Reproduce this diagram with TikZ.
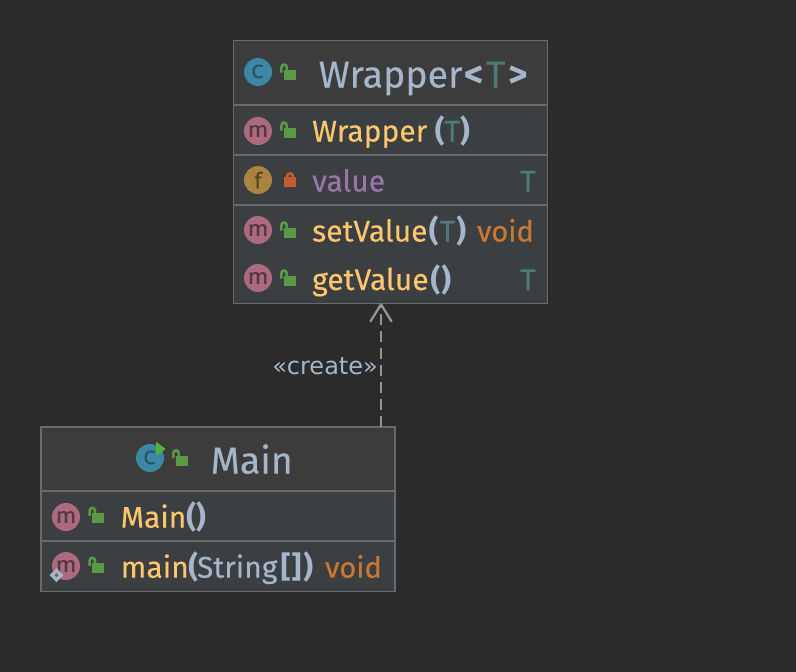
\documentclass[tikz,border=0pt]{standalone}
\usepackage{fontspec}
\setmainfont{Fira Sans}[FakeBold=0.2,BoldFeatures={FakeBold=0}]
\newfontfamily\labelfont{DejaVu Sans}
\usetikzlibrary{arrows.meta,calc}
\definecolor{bgc}{HTML}{2B2B2B}
\definecolor{headc}{HTML}{3C3C3C}
\definecolor{bodyc}{HTML}{3B3F42}
\definecolor{linec}{HTML}{6A6A6A}
\definecolor{edgec}{HTML}{949494}
\definecolor{fnc}{HTML}{FFC66D}
\definecolor{txtc}{HTML}{A5B6CA}
\definecolor{typc}{HTML}{507874}
\definecolor{kwc}{HTML}{CC7832}
\definecolor{fldc}{HTML}{9876AA}
\definecolor{mfill}{HTML}{AD6A7E}
\definecolor{mtxt}{HTML}{533A42}
\definecolor{ffill}{HTML}{A8843E}
\definecolor{ftxt}{HTML}{54431F}
\definecolor{cfill}{HTML}{3A87A6}
\definecolor{ctxt}{HTML}{2B4F60}
\definecolor{lockg}{HTML}{5A9A46}
\definecolor{lockr}{HTML}{C45C2C}
\definecolor{playc}{HTML}{54B03E}
\definecolor{diac}{HTML}{A3B5C6}
\newcommand{\tfn}[1]{{\color{fnc}#1}}
\newcommand{\ttx}[1]{{\color{txtc}#1}}
\newcommand{\tty}[1]{{\color{typc}#1}}
\newcommand{\tbd}[1]{{\color{txtc}\bfseries #1}}
\newcommand{\wm}{\scalebox{1.12}[1]{m}}
\tikzset{
  x=1pt,y=-1pt,
  classbox/.style={draw=linec,line width=1.3pt,fill=bodyc,inner sep=0pt,outer sep=0pt,anchor=north west},
  sepline/.style={draw=linec,line width=1.6pt},
  titletext/.style={anchor=base west,inner sep=0pt,text=txtc,font=\fontsize{37.5}{40}\selectfont},
  membertext/.style={anchor=base west,inner sep=0pt,font=\fontsize{30}{32}\selectfont},
  typetext/.style={anchor=base east,inner sep=0pt,font=\fontsize{30}{32}\selectfont},
  voidtext/.style={anchor=base east,inner sep=0pt,font=\fontsize{29}{32}\selectfont},
  icondisc/.style={circle,minimum size=28pt,inner sep=0pt,fill=#1},
  iconletter/.style={inner sep=0pt,font=\fontsize{22}{24}\selectfont,text=#1},
  iconc/.style={inner sep=0pt,font=\labelfont\fontsize{24}{24}\selectfont,text=ctxt},
  dep/.style={draw=edgec,line width=2.5pt,dash pattern=on 11pt off 6pt,
    -{Straight Barb[length=17pt,width=21pt,line width=2.3pt,round]}},
  openlock/.pic={
    \fill[lockg] (-4,-5) rectangle (8,5);
    \draw[lockg,line width=2.6pt] (-6.7,-2.5) -- (-6.7,-7) .. controls (-6.7,-11.6) and (-1.2,-11.6) .. (-1.2,-7) -- (-1.2,-4);
  },
  shutlock/.pic={
    \fill[lockr] (-6,-5) rectangle (6,5);
    \draw[lockr,line width=2.6pt] (-3,-4.5) -- (-3,-5.5) .. controls (-3,-9.6) and (3,-9.6) .. (3,-5.5) -- (3,-4.5);
  }
}
\begin{document}
\begin{tikzpicture}
\path[fill=bgc,use as bounding box] (0,0) rectangle (796,672);

% Wrapper class
\node[classbox,minimum width=314pt,minimum height=262.5pt] (wrapperbox) at (233.2,40.7) {};
\fill[headc] (234,41.5) rectangle (547,105);
\draw[linec,line width=1.3pt] (233.2,40.7) rectangle (547.2,303.2);
\draw[sepline] (234,105) -- (547,105);
\draw[sepline] (234,155) -- (547,155);
\draw[sepline] (234,205) -- (547,205);

\node[icondisc=cfill] (wc) at (258,72) {};
\node[iconc] at (wc) {c};
\pic at (288,75) {openlock};
\node[titletext] (wtitle) at (318.5,87.5) {Wrapper\kern1.5pt\tbd{<}\kern2.5pt\tty{T}\kern3.5pt\tbd{>}};

\node[icondisc=mfill] (wm1) at (258,131) {};
\node[iconletter=mtxt] at (wm1) {\wm};
\pic at (288,133) {openlock};
\node[membertext] (wctor) at (312,141.5) {\tfn{Wrapper}\kern7.5pt\tbd{(}\tty{T}\tbd{)}};

\node[icondisc=ffill] (wf) at (258,180) {};
\node[iconletter=ftxt] at (wf) {f};
\pic at (290,182) {shutlock};
\node[membertext,text=fldc] (wval) at (312,191.5) {value};
\node[typetext,text=typc] (wvalt) at (536,191.5) {T};

\node[icondisc=mfill] (wm2) at (258,230) {};
\node[iconletter=mtxt] at (wm2) {\wm};
\pic at (288,233) {openlock};
\node[membertext] (wset) at (312,241.5) {\tfn{setValue}\kern1.5pt\tbd{(}\kern1pt\tty{T}\kern1pt\tbd{)}};
\node[voidtext,text=kwc] (wsett) at (534,241.5) {void};

\node[icondisc=mfill] (wm3) at (258,278) {};
\node[iconletter=mtxt] at (wm3) {\wm};
\pic at (288,281) {openlock};
\node[membertext] (wget) at (312,290) {\tfn{getValue}\kern2pt\tbd{(}\kern1pt\tbd{)}};
\node[typetext,text=typc] (wgett) at (536,290) {T};

% Main class
\node[classbox,minimum width=354pt,minimum height=164.5pt] (mainbox) at (41,427) {};
\fill[headc] (41.8,427.8) rectangle (394.2,491);
\draw[linec,line width=1.3pt] (41,427) rectangle (395,591.5);
\draw[sepline] (41.8,491) -- (394.2,491);
\draw[sepline] (41.8,541) -- (394.2,541);

\node[icondisc=cfill] (mc) at (150,458) {};
\node[iconc] at (mc) {c};
\fill[playc] (156,441.7) -- (165.7,449) -- (156,455.7) -- cycle;
\pic at (180,460.7) {openlock};
\node[titletext] (mtitle) at (210.5,473.5) {Main};

\node[icondisc=mfill] (mm1) at (66,517) {};
\node[iconletter=mtxt] at (mm1) {\wm};
\pic at (96.3,518.3) {openlock};
\node[membertext] (mctor) at (120.5,527.7) {\tfn{Main}\tbd{()}};

\node[icondisc=mfill] (mm2) at (66,566) {};
\node[iconletter=mtxt] at (mm2) {\wm};
\pic at (96.3,568.3) {openlock};
\fill[diac] (56.5,568) -- (63.5,575) -- (56.5,582) -- (49.5,575) -- cycle;
\fill[mfill!60!bodyc] (56.5,573) -- (58.5,575) -- (56.5,577) -- (54.5,575) -- cycle;
\node[membertext] (mmain) at (120.5,577.7) {\tfn{main}\kern-0.5pt\tbd{(}\kern-1pt\ttx{String}\kern3.5pt\tbd{[}\kern1pt\tbd{]}\kern2pt\tbd{)}};
\node[voidtext,text=kwc] (mmaint) at (382,577.7) {void};

% Dependency
\coordinate (depx) at (381,0);
\draw[dep] (mainbox.north -| depx) -- (wrapperbox.south -| depx);
\node[anchor=base east,inner sep=0pt,text=txtc,font=\labelfont\fontsize{24}{26}\selectfont] (createlbl) at (378,374) {«create»};
\end{tikzpicture}
\end{document}
